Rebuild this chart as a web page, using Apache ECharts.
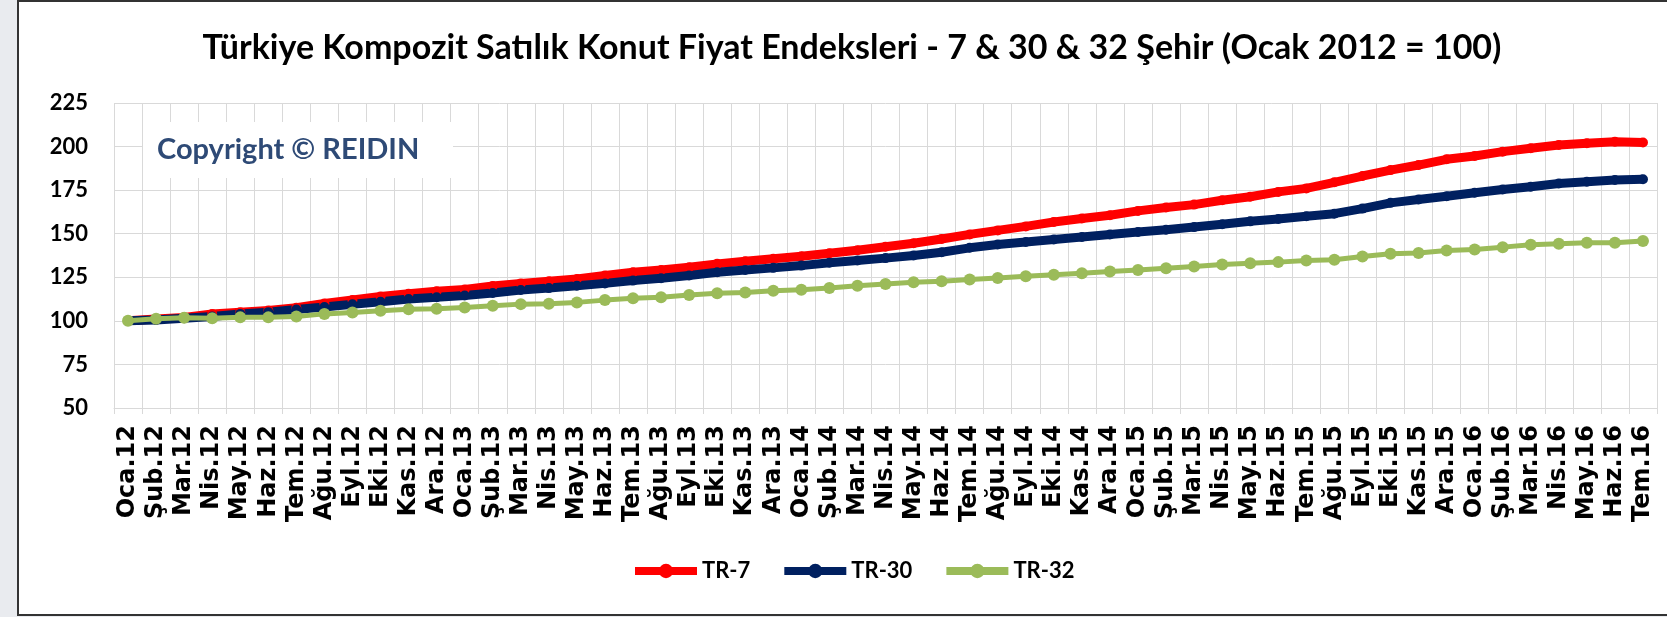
<!DOCTYPE html>
<html>
<head>
<meta charset="utf-8">
<title>Türkiye Kompozit Satılık Konut Fiyat Endeksleri</title>
<script src="https://cdn.jsdelivr.net/npm/echarts@6/dist/echarts.min.js"></script>
<style>
html, body { margin: 0; padding: 0; background: #e9ebef; }
#frame {
    position: absolute; left: 17px; top: 0; width: 1650px; height: 616px;
    box-sizing: border-box; background: #fff;
    border-left: 2px solid #333; border-top: 2px solid #333; border-bottom: 2px solid #333;
}
#chart { position: absolute; left: 0; top: 0; width: 1667px; height: 617px; }
</style>
</head>
<body>
<div id="frame"></div>
<div id="chart"></div>
<script>
// months Oca.12 .. Tem.16
const months = [
    "Oca.12", "Şub.12", "Mar.12", "Nis.12", "May.12", "Haz.12", "Tem.12", "Ağu.12", "Eyl.12", "Eki.12", "Kas.12", "Ara.12",
    "Oca.13", "Şub.13", "Mar.13", "Nis.13", "May.13", "Haz.13", "Tem.13", "Ağu.13", "Eyl.13", "Eki.13", "Kas.13", "Ara.13",
    "Oca.14", "Şub.14", "Mar.14", "Nis.14", "May.14", "Haz.14", "Tem.14", "Ağu.14", "Eyl.14", "Eki.14", "Kas.14", "Ara.14",
    "Oca.15", "Şub.15", "Mar.15", "Nis.15", "May.15", "Haz.15", "Tem.15", "Ağu.15", "Eyl.15", "Eki.15", "Kas.15", "Ara.15",
    "Oca.16", "Şub.16", "Mar.16", "Nis.16", "May.16", "Haz.16", "Tem.16"
];

const tr7 = [
    100, 101, 102, 104, 105, 106, 107.5, 110, 112, 114, 115.5, 117,
    118, 120, 121.5, 122.7, 124, 126, 127.9, 129.2, 130.8, 132.7, 134.2, 135.6,
    137.1, 138.8, 140.5, 142.5, 144.5, 147, 149.6, 151.9, 154.2, 156.7, 158.7, 160.6,
    163.1, 165, 166.7, 169.2, 171.2, 174, 176, 179.5, 183.1, 186.5, 189.4, 192.7,
    194.6, 197.1, 199, 200.9, 201.9, 202.8, 202.3
];

const tr30 = [
    100, 100.5, 101.5, 102.5, 104, 105, 106.5, 108, 109.5, 111, 112.5, 113.5,
    114.5, 116, 117.7, 118.8, 120.2, 121.5, 123.1, 124.4, 126, 127.9, 129.2, 130.4,
    131.7, 133.3, 134.6, 136, 137.5, 139.4, 141.9, 143.8, 145.2, 146.7, 148.1, 149.6,
    151, 152.3, 153.8, 155.4, 157.1, 158.5, 160, 161.5, 164.4, 167.7, 169.6, 171.5,
    173.5, 175.4, 176.9, 178.8, 179.8, 180.8, 181.2
];

const tr32 = [
    100, 101.2, 101.8, 101.5, 102, 102, 102.5, 104, 104.8, 105.8, 106.7, 107,
    107.7, 108.7, 109.6, 109.8, 110.6, 111.9, 113, 113.5, 114.8, 115.8, 116.3, 117.3,
    117.9, 118.8, 120.2, 121.2, 122.1, 122.7, 123.7, 124.6, 125.6, 126.5, 127.3, 128.3,
    129.2, 130.2, 131.2, 132.3, 133.1, 133.7, 134.6, 135, 136.9, 138.5, 139, 140.4,
    141, 142.3, 143.7, 144.2, 144.8, 144.8, 145.8
];

const yTicks = { min: 50, max: 225, step: 25 };

const chart = echarts.init(document.getElementById("chart"), null, { renderer: "canvas" });
const gridColor = "#d9d9d9";

chart.setOption({
    animation: false,
    backgroundColor: "transparent",
    textStyle: { fontFamily: "Lato, 'Liberation Sans', sans-serif" },
    grid: { left: 114, right: 10, top: 103, bottom: 209, containLabel: false },
    graphic: [
        {
            type: "text", x: 852, y: 48, z: 10,
            style: {
                text: "Türkiye Kompozit Satılık Konut Fiyat Endeksleri - 7 & 30 & 32 Şehir (Ocak 2012 = 100)",
                fill: "#000", font: "bold 34px Lato, 'Liberation Sans', sans-serif",
                align: "center", verticalAlign: "middle"
            }
        },
        {
            type: "rect", shape: { x: 143, y: 122, width: 310, height: 56 }, z: 5,
            style: { fill: "#fff" }
        },
        {
            type: "text", x: 157, y: 150, z: 6,
            style: {
                text: "Copyright © REIDIN", fill: "#2e4a76",
                font: "bold 29px Lato, 'Liberation Sans', sans-serif",
                align: "left", verticalAlign: "middle"
            }
        }
    ],
    legend: {
        left: 626, top: 555, itemWidth: 62, itemHeight: 18, itemGap: 30,
        lineStyle: { width: 8 },
        textStyle: { fontSize: 22, fontWeight: "bold", color: "#000", fontFamily: "Lato, sans-serif" },
        data: ["TR-7", "TR-30", "TR-32"]
    },
    xAxis: {
        type: "category",
        data: months,
        boundaryGap: true,
        axisLine: { show: true, lineStyle: { color: gridColor } },
        axisTick: { show: true, length: 6, interval: 0, lineStyle: { color: gridColor } },
        splitLine: { show: true, interval: 0, lineStyle: { color: gridColor } },
        axisLabel: {
            rotate: 90, interval: 0, margin: 17,
            fontFamily: "'DejaVu Sans', sans-serif", fontWeight: "bold", fontSize: 24, color: "#000"
        }
    },
    yAxis: {
        type: "value",
        min: yTicks.min, max: yTicks.max, interval: yTicks.step,
        axisLine: { show: false },
        axisTick: { show: false },
        splitLine: { lineStyle: { color: gridColor } },
        axisLabel: {
            margin: 26, fontSize: 22, fontWeight: "bold", color: "#000",
            fontFamily: "Lato, 'Liberation Sans', sans-serif"
        }
    },
    series: [
        {
            name: "TR-7", type: "line", data: tr7,
            symbol: "circle", symbolSize: 10, showSymbol: true,
            lineStyle: { color: "#ff0000", width: 9 },
            itemStyle: { color: "#ff0000" }
        },
        {
            name: "TR-30", type: "line", data: tr30,
            symbol: "circle", symbolSize: 10, showSymbol: true,
            lineStyle: { color: "#002060", width: 9 },
            itemStyle: { color: "#002060" }
        },
        {
            name: "TR-32", type: "line", data: tr32,
            symbol: "circle", symbolSize: 12, showSymbol: true,
            lineStyle: { color: "#9bbb59", width: 5 },
            itemStyle: { color: "#9bbb59" }
        }
    ]
});
</script>
</body>
</html>
